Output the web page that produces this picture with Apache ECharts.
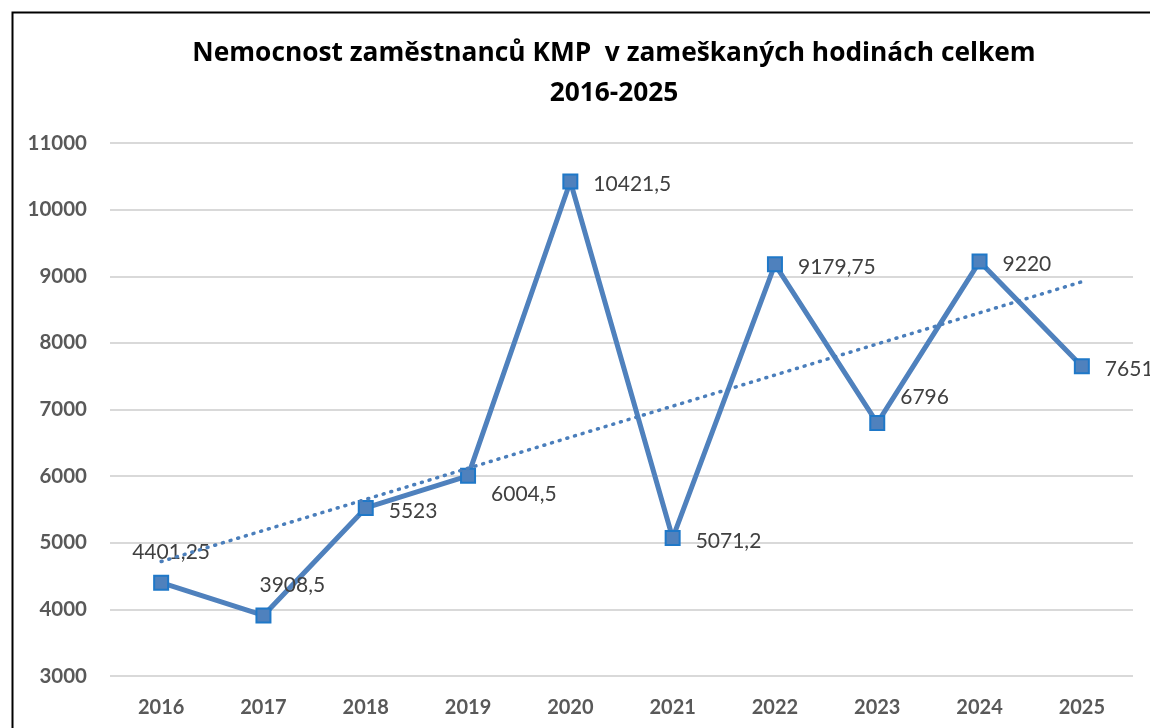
<!DOCTYPE html>
<html>
<head>
<meta charset="utf-8">
<script src="https://cdn.jsdelivr.net/npm/echarts@6/dist/echarts.min.js"></script>
<style>html,body{margin:0;padding:0;background:#fff;}#c{width:1150px;height:728px;}</style>
</head>
<body>
<div id="c"></div>
<script>
const categories = ['2016','2017','2018','2019','2020','2021','2022','2023','2024','2025'];
const hours = [4401.25, 3908.5, 5523, 6004.5, 10421.5, 5071.2, 9179.75, 6796, 9220, 7651];
const trendEnds = [4718, 8917];
const yTicks = [3000, 11000, 1000];
const titleText = 'Nemocnost zaměstnanců KMP  v zameškaných hodinách celkem\n2016-2025';

const fmt = v => String(v).replace('.', ',');
const labelShift = {0: [-52, -30], 1: [-27, -30], 3: [0, 18], 7: [0, -26]};
const trendData = categories.map((c, i) => i === 0 ? trendEnds[0] : (i === categories.length - 1 ? trendEnds[1] : null));

const chart = echarts.init(document.getElementById('c'));
chart.setOption({
  animation: false,
  backgroundColor: '#fff',
  graphic: [{
    type: 'rect', left: 10, top: 10, silent: true,
    shape: {width: 1300, height: 900},
    style: {fill: 'none', stroke: '#000', lineWidth: 2}
  }],
  title: {
    text: titleText,
    left: 609, top: 29, textAlign: 'center',
    textStyle: {fontFamily: 'Open Sans', fontWeight: 'bold', fontSize: 26.3, lineHeight: 40, color: '#000'}
  },
  grid: {left: 110, right: 17, top: 143, bottom: 52, containLabel: false},
  xAxis: {
    type: 'category', data: categories, boundaryGap: true,
    axisLine: {show: false}, axisTick: {show: false},
    axisLabel: {margin: 22, fontFamily: 'Lato', fontWeight: 'bold', fontSize: 20, color: '#595959'}
  },
  yAxis: {
    type: 'value', min: yTicks[0], max: yTicks[1], interval: yTicks[2],
    axisLine: {show: false}, axisTick: {show: false},
    axisLabel: {margin: 23, fontFamily: 'Lato', fontWeight: 'bold', fontSize: 20.5, color: '#595959', formatter: v => String(v)},
    splitLine: {lineStyle: {color: '#d9d9d9', width: 2}}
  },
  series: [{
    type: 'line', data: hours, z: 3,
    lineStyle: {color: '#4F81BD', width: 5},
    symbol: 'rect', symbolSize: 14,
    itemStyle: {color: '#4F81BD', borderColor: '#1F78C8', borderWidth: 2},
    label: {
      show: true, position: 'right', distance: 15,
      formatter: p => fmt(p.value),
      fontFamily: 'Lato', fontSize: 21, color: '#404040'
    },
    labelLayout: p => {
      const s = labelShift[p.dataIndex] || [0, 3];
      return {dx: s[0], dy: s[1], hideOverlap: false};
    }
  }, {
    type: 'line', data: trendData, connectNulls: true, silent: true, z: 4,
    symbol: 'none',
    lineStyle: {color: '#4A7EBB', width: 3.5, type: [1, 7], cap: 'round'}
  }]
});
</script>
</body>
</html>
